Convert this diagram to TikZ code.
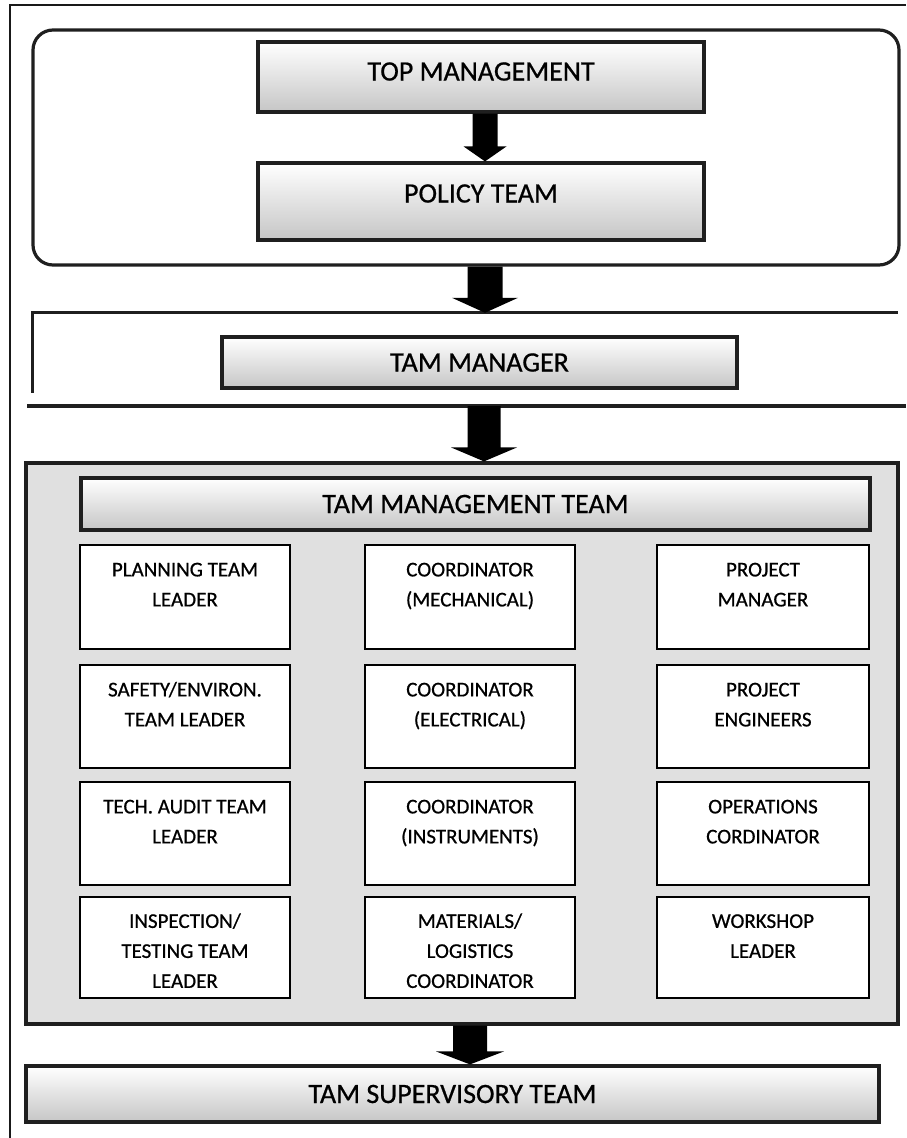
\documentclass[tikz,border=0pt]{standalone}
\usepackage{fontspec}
\setmainfont{Carlito}
\newfontfamily\chartfont{Carlito}[FakeBold=0.7]
\usetikzlibrary{calc}

% Solid block arrow between two named points: start, tip, half shaft, half head, head length
\newcommand{\blockarrow}[5]{%
  \fill[black]
    ($(#1)+(-#3,0)$) -- ($(#2)+(-#3,-#5)$) -- ($(#2)+(-#4,-#5)$) -- (#2)
    -- ($(#2)+(#4,-#5)$) -- ($(#2)+(#3,-#5)$) -- ($(#1)+(#3,0)$) -- cycle;}

\begin{document}
\begin{tikzpicture}[x=1pt,y=-1pt,
  frame/.style={draw=black!88, line width=3.2pt},
  titlebox/.style={frame, top color=white, bottom color=gray!45, inner sep=0pt,
    font=\chartfont\fontsize{28}{30}\selectfont, text height=18pt},
  cell/.style={draw=black, line width=2.6pt, fill=white, inner sep=0pt},
  celltext/.style={anchor=north, inner sep=0pt, align=center,
    font=\chartfont\fontsize{21}{30}\selectfont}
]
\useasboundingbox (0,0) rectangle (906,1138);

% page rule along the left and top
\draw[line width=2.4pt, black!90] (10,1138) -- (10,5) -- (906,5);

% upper group
\node[frame, rounded corners=20pt, minimum width=866pt, minimum height=235pt, inner sep=0pt]
  (board) at (466,147.5) {};
\node[titlebox, minimum width=446pt, minimum height=70pt, text depth=11pt]
  (top) at (481,77) {TOP MANAGEMENT};
\node[titlebox, minimum width=446pt, minimum height=77pt, text depth=16pt]
  (policy) at (481,201.5) {POLICY TEAM};

% open band holding the manager
\node[minimum width=865pt, minimum height=93pt, inner sep=0pt] (band) at (465.5,359.5) {};
\draw[frame] ($(band.north west)+(0,80)$) -- (band.north west) -- (band.north east);
\draw[frame] (27,406) -- (906,406);
\node[titlebox, minimum width=515pt, minimum height=51pt, text depth=0pt]
  (mgr) at (479.5,362.5) {TAM MANAGER};

% management team block
\node[frame, fill=gray!24, minimum width=872pt, minimum height=561pt, inner sep=0pt]
  (mgmt) at (462,743.5) {};
\node[titlebox, minimum width=789pt, minimum height=52pt, text depth=0pt]
  (mteam) at (475.5,504) {TAM MANAGEMENT TEAM};

% team cells, three columns by four rows
\node[cell, minimum width=210pt, minimum height=104pt] (c11) at (185,597) {};
\node[cell, minimum width=210pt, minimum height=104pt] (c12) at (470,597) {};
\node[cell, minimum width=212pt, minimum height=104pt] (c13) at (763,597) {};
\node[cell, minimum width=210pt, minimum height=103pt] (c21) at (185,716.5) {};
\node[cell, minimum width=210pt, minimum height=103pt] (c22) at (470,716.5) {};
\node[cell, minimum width=212pt, minimum height=103pt] (c23) at (763,716.5) {};
\node[cell, minimum width=210pt, minimum height=103pt] (c31) at (185,833.5) {};
\node[cell, minimum width=210pt, minimum height=103pt] (c32) at (470,833.5) {};
\node[cell, minimum width=212pt, minimum height=103pt] (c33) at (763,833.5) {};
\node[cell, minimum width=210pt, minimum height=101pt] (c41) at (185,947.5) {};
\node[cell, minimum width=210pt, minimum height=101pt] (c42) at (470,947.5) {};
\node[cell, minimum width=212pt, minimum height=101pt] (c43) at (763,947.5) {};

\node[celltext] (t11) at ([yshift=-11.5pt]c11.north) {\strut PLANNING TEAM\\LEADER};
\node[celltext] (t12) at ([yshift=-11.5pt]c12.north) {\strut COORDINATOR\\(MECHANICAL)};
\node[celltext] (t13) at ([yshift=-11.5pt]c13.north) {\strut PROJECT\\MANAGER};
\node[celltext] (t21) at ([yshift=-11.5pt]c21.north) {\strut SAFETY/ENVIRON.\\TEAM LEADER};
\node[celltext] (t22) at ([yshift=-11.5pt]c22.north) {\strut COORDINATOR\\(ELECTRICAL)};
\node[celltext] (t23) at ([yshift=-11.5pt]c23.north) {\strut PROJECT\\ENGINEERS};
\node[celltext] (t31) at ([yshift=-11.5pt]c31.north) {\strut TECH. AUDIT TEAM\\LEADER};
\node[celltext] (t32) at ([yshift=-11.5pt]c32.north) {\strut COORDINATOR\\(INSTRUMENTS)};
\node[celltext] (t33) at ([yshift=-11.5pt]c33.north) {\strut OPERATIONS\\CORDINATOR};
\node[celltext] (t41) at ([yshift=-11pt]c41.north) {\strut INSPECTION/\\TESTING TEAM\\LEADER};
\node[celltext] (t42) at ([yshift=-11pt]c42.north) {\strut MATERIALS/\\LOGISTICS\\COORDINATOR};
\node[celltext] (t43) at ([yshift=-11pt]c43.north) {\strut WORKSHOP\\LEADER};

% supervisory team
\node[titlebox, minimum width=853pt, minimum height=56pt, text depth=0pt]
  (sup) at (452.5,1094) {TAM SUPERVISORY TEAM};

% arrow axes and end points
\coordinate (axA) at (485,0);
\coordinate (axB) at (484,0);
\coordinate (axC) at (470,0);
\coordinate (a1s) at (top.south -| axA);
\coordinate (a1e) at (policy.north -| axA);
\coordinate (a2s) at (board.south -| axA);
\coordinate (a2e) at (band.north -| axA);
\coordinate (a3s) at (band.south -| axB);
\coordinate (a3e) at (mgmt.north -| axB);
\coordinate (a4s) at (mgmt.south -| axC);
\coordinate (a4e) at (sup.north -| axC);

\blockarrow{a1s}{a1e}{12.5}{21.5}{15}
\blockarrow{a2s}{a2e}{17.5}{33}{15}
\blockarrow{a3s}{a3e}{16.5}{33}{14}
\blockarrow{a4s}{a4e}{17}{34}{13}
\end{tikzpicture}
\end{document}
